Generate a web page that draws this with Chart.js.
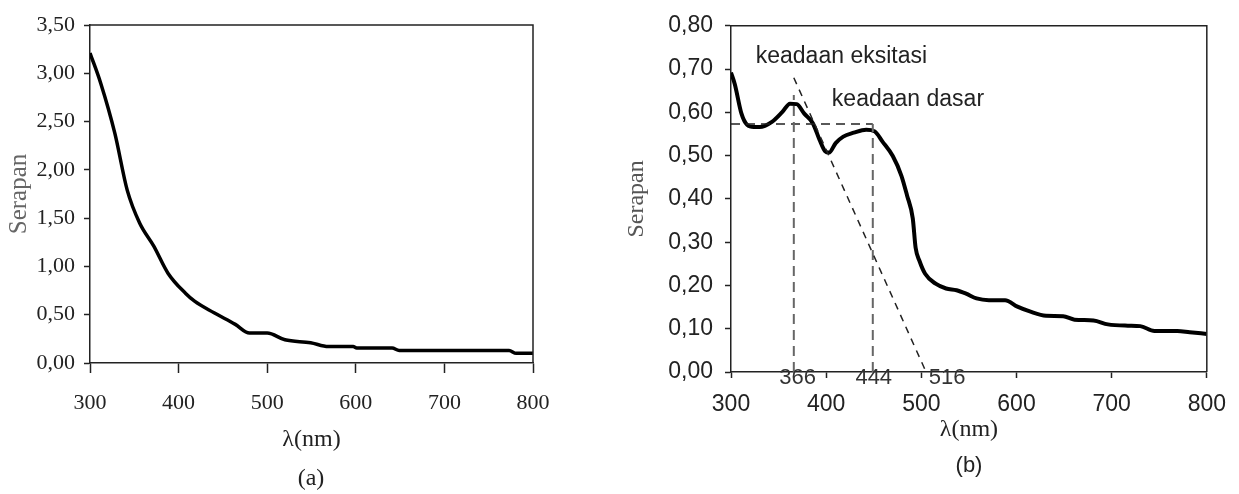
<!DOCTYPE html>
<html>
<head>
<meta charset="utf-8">
<script src="https://cdn.jsdelivr.net/npm/chart.js@4.4.0/dist/chart.umd.min.js"></script>
<style>
body { margin: 0; background: #fff; width: 1239px; height: 494px; position: relative; overflow: hidden; }
#wrapA { position: absolute; left: 0; top: 0; width: 600px; height: 494px; }
#wrapB { position: absolute; left: 600px; top: 0; width: 639px; height: 494px; }
.cap { position: absolute; transform: translate(-50%, -50%); color: #222; }
</style>
</head>
<body>
<div id="wrapA"><canvas id="chartA" width="600" height="494"></canvas></div>
<div id="wrapB"><canvas id="chartB" width="639" height="494"></canvas></div>
<div class="cap" style="left:311px; top:477px; font: 24px 'Liberation Serif';">(a)</div>
<div class="cap" style="left:969px; top:465px; font: 22px 'Liberation Sans';">(b)</div>
<script>
// spectrum (a)
var waveA = [300, 312, 328, 342, 356, 372, 388, 408, 418, 440, 464, 480, 500, 520, 549, 569, 597, 601, 641, 649, 773, 781, 800];
var absA = [3.21, 2.90, 2.38, 1.79, 1.45, 1.21, 0.93, 0.72, 0.64, 0.52, 0.40, 0.31, 0.31, 0.24, 0.21, 0.17, 0.17, 0.155, 0.155, 0.13, 0.13, 0.10, 0.10];

// spectrum (b)
var waveB = [300, 304, 311, 317, 324, 330, 343, 354, 362, 369, 377, 386, 393, 399, 403, 410, 418, 429, 442, 451, 459, 470, 479, 485, 491, 494, 498, 504, 515, 526, 537, 547, 558, 571, 588, 601, 614, 631, 649, 661, 681, 696, 717, 730, 745, 769, 782, 800];
var absB = [0.692, 0.665, 0.597, 0.571, 0.566, 0.566, 0.578, 0.601, 0.620, 0.619, 0.597, 0.575, 0.537, 0.510, 0.507, 0.529, 0.544, 0.553, 0.560, 0.556, 0.533, 0.499, 0.454, 0.408, 0.355, 0.287, 0.257, 0.227, 0.204, 0.193, 0.189, 0.181, 0.170, 0.166, 0.166, 0.151, 0.140, 0.130, 0.129, 0.121, 0.119, 0.110, 0.107, 0.106, 0.095, 0.095, 0.092, 0.088];

// guide lines in (b), data units
var guideLevel = 0.573;
var peakExcited = 366;
var peakGround = 449;
var edgeCross = 505;
var markLabels = ['366', '444', '516'];
var markPositions = [370, 450, 527];

function toPoints(xs, ys) {
    return xs.map(function (x, i) { return { x: x, y: ys[i] }; });
}

function commaFmt(v) {
    return v.toFixed(2).replace('.', ',');
}

// top and right edges of the plot box
var framePlugin = {
    id: 'frame',
    afterDraw: function (chart) {
        var a = chart.chartArea, ctx = chart.ctx;
        ctx.save();
        ctx.strokeStyle = '#222';
        ctx.lineWidth = 1.5;
        ctx.beginPath();
        ctx.moveTo(a.left, a.top);
        ctx.lineTo(a.right, a.top);
        ctx.lineTo(a.right, a.bottom);
        ctx.stroke();
        ctx.restore();
    }
};

var guidePlugin = {
    id: 'guides',
    afterDatasetsDraw: function (chart) {
        var ctx = chart.ctx, xs = chart.scales.x, ys = chart.scales.y;
        function seg(x1, y1, x2, y2, color, width, dash) {
            ctx.save();
            ctx.strokeStyle = color;
            ctx.lineWidth = width;
            ctx.setLineDash(dash);
            ctx.beginPath();
            ctx.moveTo(xs.getPixelForValue(x1), ys.getPixelForValue(y1));
            ctx.lineTo(xs.getPixelForValue(x2), ys.getPixelForValue(y2));
            ctx.stroke();
            ctx.restore();
        }
        seg(300, guideLevel, peakGround, guideLevel, '#222', 1.5, [9, 6]);
        seg(peakExcited, 0, peakExcited, 0.64, '#666', 2, [10, 6]);
        seg(peakGround, 0, peakGround, guideLevel, '#666', 2, [10, 6]);
        seg(peakExcited, 0.68, edgeCross, 0, '#222', 1.5, [7, 6]);

        ctx.save();
        ctx.fillStyle = '#222';
        ctx.font = "23px 'Liberation Sans'";
        ctx.textBaseline = 'middle';
        ctx.textAlign = 'left';
        ctx.fillText('keadaan eksitasi', xs.getPixelForValue(326), ys.getPixelForValue(0.728));
        ctx.fillText('keadaan dasar', xs.getPixelForValue(406), ys.getPixelForValue(0.63));
        ctx.font = "22px 'Liberation Sans'";
        ctx.fillStyle = '#333';
        ctx.textAlign = 'center';
        var y0 = ys.getPixelForValue(0) + 6;
        markLabels.forEach(function (t, i) {
            ctx.fillText(t, xs.getPixelForValue(markPositions[i]), y0);
        });
        ctx.restore();
    }
};

function axisGrid(len) {
    return {
        display: true,
        drawOnChartArea: false,
        drawTicks: true,
        tickLength: len,
        tickColor: '#222',
        tickWidth: 1.5
    };
}

// chart (a)
new Chart(document.getElementById('chartA').getContext('2d'), {
    type: 'line',
    data: {
        datasets: [{
            data: toPoints(waveA, absA),
            borderColor: '#000',
            borderWidth: 3.5,
            pointRadius: 0,
            cubicInterpolationMode: 'monotone',
            fill: false
        }]
    },
    options: {
        responsive: false,
        animation: false,
        layout: { padding: { top: 25, right: 67, left: 0, bottom: 0 } },
        plugins: { legend: { display: false }, tooltip: { enabled: false } },
        scales: {
            x: {
                type: 'linear',
                min: 300,
                max: 800,
                grid: axisGrid(10),
                border: { display: true, color: '#222', width: 1.5 },
                ticks: { stepSize: 100, color: '#222', padding: 17, maxRotation: 0, font: { family: 'Liberation Serif', size: 22 } },
                title: { display: true, text: 'λ(nm)', color: '#222', font: { family: 'Liberation Serif', size: 24 }, padding: { top: 0, bottom: 40 } },
                afterFit: function (s) { s.height = 131; }
            },
            y: {
                min: 0,
                max: 3.5,
                grid: axisGrid(6),
                border: { display: true, color: '#222', width: 1.5 },
                ticks: { stepSize: 0.5, color: '#222', padding: 9, font: { family: 'Liberation Serif', size: 22 }, callback: commaFmt },
                title: { display: true, text: 'Serapan', color: '#666', font: { family: 'Liberation Serif', size: 25 }, padding: { top: 4, bottom: 0 } },
                afterFit: function (s) { s.width = 90; }
            }
        }
    },
    plugins: [framePlugin]
});

// chart (b)
new Chart(document.getElementById('chartB').getContext('2d'), {
    type: 'line',
    data: {
        datasets: [{
            data: toPoints(waveB, absB),
            borderColor: '#000',
            borderWidth: 4,
            pointRadius: 0,
            cubicInterpolationMode: 'monotone',
            fill: false
        }]
    },
    options: {
        responsive: false,
        animation: false,
        layout: { padding: { top: 19, right: 31, left: 0, bottom: 0 } },
        plugins: { legend: { display: false }, tooltip: { enabled: false } },
        scales: {
            x: {
                type: 'linear',
                min: 300,
                max: 800,
                grid: axisGrid(6),
                border: { display: true, color: '#222', width: 1.5 },
                ticks: { stepSize: 100, color: '#222', padding: 13, maxRotation: 0, font: { family: 'Liberation Sans', size: 23 } },
                title: { display: true, text: 'λ(nm)', color: '#222', font: { family: 'Liberation Serif', size: 24 }, padding: { top: 0, bottom: 50 } },
                afterFit: function (s) { s.height = 122; }
            },
            y: {
                min: 0,
                max: 0.8,
                grid: axisGrid(6),
                border: { display: true, color: '#222', width: 1.5 },
                ticks: { stepSize: 0.1, color: '#222', padding: 12, font: { family: 'Liberation Sans', size: 23 }, callback: commaFmt },
                title: { display: true, text: 'Serapan', color: '#555', font: { family: 'Liberation Serif', size: 24 }, padding: { top: 22, bottom: 0 } },
                afterFit: function (s) { s.width = 131; }
            }
        }
    },
    plugins: [framePlugin, guidePlugin]
});
</script>
</body>
</html>
